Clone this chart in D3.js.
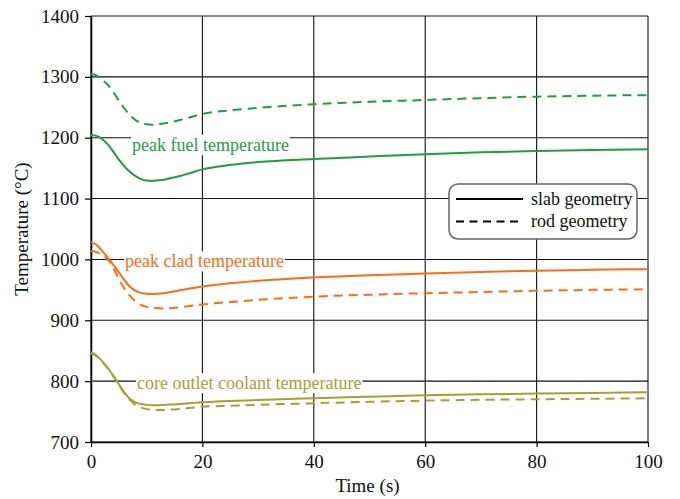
<!DOCTYPE html>
<html>
<head>
<meta charset="utf-8">
<script src="https://cdn.jsdelivr.net/npm/d3@7"></script>
<style>
  body { margin: 0; background: #fff; }
  #chart { width: 680px; height: 499px; }
  text { font-family: "Liberation Serif", "Times New Roman", serif; }
</style>
</head>
<body>
<div id="chart"></div>
<script>
// 时间 (s)
const times = [0, 1, 2, 3, 4, 5, 6, 7, 8, 9, 10, 11, 12, 13, 14, 16, 18, 20, 25, 30, 40, 50, 60, 70, 80, 90, 100];

// peak fuel temperature
const fuelSlab = [1204.5, 1203, 1198, 1189, 1177, 1164, 1153, 1144, 1137, 1132, 1129.5, 1129, 1130, 1131, 1133, 1137, 1142.5, 1148, 1155, 1160, 1165, 1169, 1173, 1176, 1178, 1180, 1181];
const fuelRod = [1305, 1302, 1295, 1287, 1275, 1261, 1248, 1237, 1229, 1224, 1222, 1221.5, 1222, 1223.5, 1225, 1229, 1234, 1239, 1245, 1249, 1255, 1259, 1262, 1265, 1267.5, 1269, 1270];

// peak clad temperature
const cladSlab = [1028, 1024, 1014, 1003, 991, 979, 966, 955, 948.5, 945, 943.5, 943, 943.5, 944.5, 946, 949.5, 952.5, 955.5, 961, 965, 970.5, 974, 977, 979.5, 981.5, 983, 984];
const cladRod = [1014, 1012, 1008, 1000, 986, 968, 952, 940, 931, 925, 922, 920.5, 920, 919.5, 919.7, 921.5, 923.8, 926, 930, 933.5, 938.8, 942, 944.5, 946.5, 948.5, 950, 951];

// core outlet coolant temperature
const coreSlab = [847.5, 842, 833, 822, 809, 795, 781, 771, 765, 762.5, 761, 760.5, 760.5, 761, 761.5, 762.5, 764, 765.3, 767.5, 769, 771.8, 774.5, 777, 778.5, 779.5, 780.7, 781.7];
const coreRod = [845.5, 841, 832, 821, 808, 794, 780, 769, 761, 756.5, 754, 753, 752.6, 752.5, 753, 754.5, 756.3, 758, 759.5, 761, 763.6, 766, 768, 769.3, 770.2, 771, 771.8];

const xTicks = [0, 20, 40, 60, 80, 100];
const yTicks = [700, 800, 900, 1000, 1100, 1200, 1300, 1400];

const groups = [
    { label: "peak fuel temperature", color: "#1e9e3e", slab: fuelSlab, rod: fuelRod, at: 1200 },
    { label: "peak clad temperature", color: "#ff6c17", slab: cladSlab, rod: cladRod, at: 1000 },
    { label: "core outlet coolant temperature", color: "#a3a133", slab: coreSlab, rod: coreRod, at: 800 }
];

function drawChart() {
    const width = 680, height = 499;
    const margin = { top: 16, right: 32, bottom: 57, left: 91 };

    const svg = d3.select("#chart").append("svg")
        .attr("width", width)
        .attr("height", height);

    const x = d3.scaleLinear().domain([0, 100]).range([margin.left, width - margin.right]);
    const y = d3.scaleLinear().domain([700, 1400]).range([height - margin.bottom, margin.top]);

    // 网格
    svg.append("g")
        .selectAll("line.h")
        .data(yTicks)
        .enter().append("line")
        .attr("x1", x(0)).attr("x2", x(100))
        .attr("y1", d => y(d)).attr("y2", d => y(d))
        .attr("stroke", "#111").attr("stroke-width", 1.1);

    svg.append("g")
        .selectAll("line.v")
        .data(xTicks)
        .enter().append("line")
        .attr("x1", d => x(d)).attr("x2", d => x(d))
        .attr("y1", y(700)).attr("y2", y(1400))
        .attr("stroke", "#111").attr("stroke-width", 1.1);

    // 曲线标签 (白底遮住网格线, 画在曲线下面)
    const labelX = [132, 125, 137];
    const labelDy = [13.5, 8, 8];
    groups.forEach((g, i) => {
        const t = svg.append("text")
            .attr("x", labelX[i])
            .attr("y", y(g.at) + labelDy[i])
            .attr("fill", g.color)
            .attr("font-size", "18px")
            .text(g.label);
        const bb = t.node().getBBox();
        const top = Math.min(bb.y, y(g.at) - 3);
        svg.insert("rect", () => t.node())
            .attr("x", bb.x - 1)
            .attr("y", top)
            .attr("width", bb.width + 2)
            .attr("height", bb.y + bb.height - top)
            .attr("fill", "#fff");
    });

    // 坐标轴
    const xAxis = svg.append("g")
        .attr("transform", `translate(0,${y(700)})`)
        .call(d3.axisBottom(x).tickValues(xTicks).tickFormat(d3.format("d"))
            .tickSize(5).tickSizeOuter(0).tickPadding(8));
    const yAxis = svg.append("g")
        .attr("transform", `translate(${x(0)},0)`)
        .call(d3.axisLeft(y).tickValues(yTicks).tickFormat(d3.format("d"))
            .tickSize(6).tickSizeOuter(0).tickPadding(6));

    [xAxis, yAxis].forEach(a => {
        a.attr("font-family", null).attr("font-size", null);
        a.select(".domain").attr("stroke", "#000").attr("stroke-width", 1.5);
        a.selectAll(".tick line").attr("stroke", "#000").attr("stroke-width", 1.2);
        a.selectAll("text")
            .attr("fill", "#111")
            .attr("font-size", "19px");
    });

    // 曲线
    const line = d3.line()
        .x((d, i) => x(times[i]))
        .y(d => y(d))
        .curve(d3.curveMonotoneX);

    groups.forEach(g => {
        svg.append("path")
            .datum(g.rod)
            .attr("d", line)
            .attr("fill", "none")
            .attr("stroke", g.color)
            .attr("stroke-width", 2)
            .attr("stroke-dasharray", "9,6");
        svg.append("path")
            .datum(g.slab)
            .attr("d", line)
            .attr("fill", "none")
            .attr("stroke", g.color)
            .attr("stroke-width", 2);
    });

    // 轴标题
    svg.append("text")
        .attr("x", (x(0) + x(100)) / 2 - 2)
        .attr("y", 492)
        .attr("text-anchor", "middle")
        .attr("fill", "#111")
        .attr("font-size", "19px")
        .text("Time (s)");

    svg.append("text")
        .attr("transform", `translate(28,${(y(700) + y(1400)) / 2}) rotate(-90)`)
        .attr("text-anchor", "middle")
        .attr("fill", "#111")
        .attr("font-size", "19px")
        .text("Temperature (°C)");

    // 图例
    const legend = svg.append("g").attr("transform", "translate(449,184)");
    legend.append("rect")
        .attr("width", 188).attr("height", 55)
        .attr("rx", 9)
        .attr("fill", "#fff")
        .attr("stroke", "#666")
        .attr("stroke-width", 1.5);

    const legendItems = ["slab geometry", "rod geometry"];
    legendItems.forEach((label, i) => {
        const row = legend.append("g").attr("transform", `translate(0,${15 + i * 22.5})`);
        row.append("line")
            .attr("x1", 7).attr("x2", 74)
            .attr("stroke", "#000").attr("stroke-width", 2)
            .attr("stroke-dasharray", i === 1 ? "8,5.5" : null);
        row.append("text")
            .attr("x", 82)
            .attr("dy", "0.32em")
            .attr("fill", "#111")
            .attr("font-size", "18px")
            .text(label);
    });
}

drawChart();
</script>
</body>
</html>
